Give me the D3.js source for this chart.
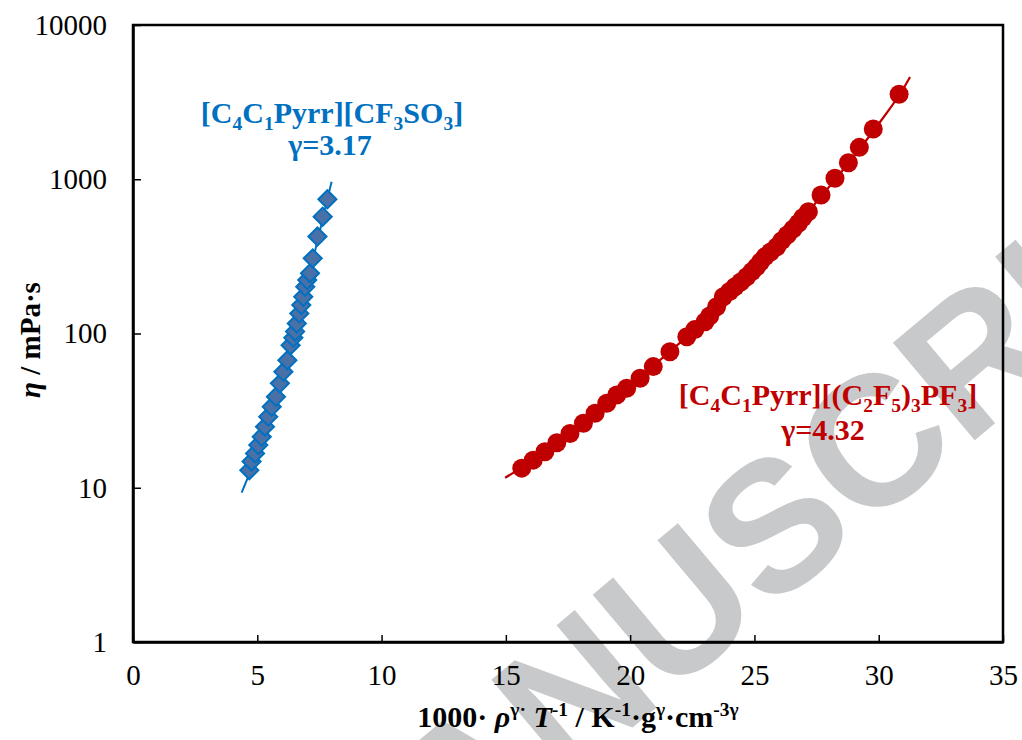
<!DOCTYPE html>
<html>
<head>
<meta charset="utf-8">
<script src="https://cdn.jsdelivr.net/npm/d3@7"></script>
<style>
  body { margin: 0; background: #fff; }
  svg text { font-family: "Times New Roman", "Liberation Serif", serif; }
</style>
</head>
<body>
<svg id="chart"></svg>
<script>
const width = 1022;
const height = 740;
const margin = { top: 25, right: 19, bottom: 98, left: 133 };

// [C4C1Pyrr][CF3SO3] data points
const blueX = [4.68, 4.77, 4.91, 5.04, 5.18, 5.31, 5.44, 5.58, 5.75, 5.91, 6.05, 6.21, 6.34, 6.45, 6.52, 6.59, 6.69, 6.77, 6.85, 6.93, 7.01, 7.12, 7.23, 7.42, 7.63, 7.82];
const blueY = [13.0, 14.8, 16.7, 18.9, 21.4, 24.9, 28.9, 33.5, 38.9, 47.5, 56.5, 67, 84, 94, 103, 116, 135, 153, 173, 201, 222, 246, 307, 425, 572, 741];
// fit line for [C4C1Pyrr][CF3SO3]
const blueFitX = [4.37, 4.8, 5.3, 5.8, 6.3, 6.8, 7.3, 7.8, 7.99];
const blueFitY = [9.3, 13.8, 24, 41, 78, 160, 330, 720, 964];

// [C4C1Pyrr][(C2F5)3PF3] data points
const redX = [15.64, 16.10, 16.57, 17.05, 17.58, 18.12, 18.59, 19.06, 19.46, 19.86, 20.40, 20.93, 21.60, 22.28, 22.60, 23.01, 23.20, 23.48, 23.75, 24.00, 24.22, 24.45, 24.69, 24.90, 25.09, 25.25, 25.43, 25.65, 25.90, 26.10, 26.32, 26.55, 26.77, 26.95, 27.17, 27.68, 28.24, 28.78, 29.22, 29.78, 30.82];
const redY = [13.4, 15.1, 17.1, 19.6, 22.5, 26.2, 30.4, 35.3, 39.9, 44.2, 51.3, 61.0, 76.2, 95.3, 106, 119, 130, 149, 173, 187, 201, 216, 233, 252, 271, 292, 315, 338, 365, 400, 435, 475, 518, 565, 616, 791, 1014, 1280, 1610, 2118, 3554];
// fit line for [C4C1Pyrr][(C2F5)3PF3]
const redFitX = [14.97, 16, 17, 18, 19, 20, 21, 22, 23, 24, 25, 26, 27, 28, 29, 30, 31, 31.26];
const redFitY = [11.6, 14.7, 19.3, 25.5, 34.5, 46, 63, 87, 120, 178, 263, 385, 575, 890, 1410, 2290, 3890, 4600];

const xTicks = [0, 5, 10, 15, 20, 25, 30, 35];
const yTicks = [1, 10, 100, 1000, 10000];

const blue = "#0070c0";
const red = "#c00000";

const svg = d3.select("#chart")
  .attr("width", width)
  .attr("height", height);

// watermark behind everything
svg.append("g")
  .attr("transform", "translate(572,692) rotate(-40)")
  .append("text")
  .attr("x", -1423)
  .attr("y", 66)
  .style("font-family", "'Liberation Sans', Arial, sans-serif")
  .style("font-weight", "bold")
  .style("font-size", "185px")
  .attr("fill", "#c8c9cb")
  .text("ACCEPTED MANUSCRIPT");

const x = d3.scaleLinear()
  .domain([0, 35])
  .range([margin.left, width - margin.right]);

const y = d3.scaleLog()
  .domain([1, 10000])
  .range([height - margin.bottom, margin.top]);

// frame
svg.append("rect")
  .attr("x", x(0))
  .attr("y", y(10000))
  .attr("width", x(35) - x(0))
  .attr("height", y(1) - y(10000))
  .attr("fill", "none")
  .attr("stroke", "#000")
  .attr("stroke-width", 2.5);

const xAxis = svg.append("g")
  .attr("transform", `translate(0, ${y(1)})`)
  .call(d3.axisBottom(x).tickValues(xTicks).tickSizeInner(-7).tickSizeOuter(0).tickPadding(22));

const yAxis = svg.append("g")
  .attr("transform", `translate(${x(0)}, 0)`)
  .call(d3.axisLeft(y).tickValues(yTicks).tickFormat(d3.format("d")).tickSizeInner(-8).tickSizeOuter(0).tickPadding(26));

[xAxis, yAxis].forEach(g => {
  g.select(".domain").attr("stroke-width", 2.5);
  g.selectAll(".tick line").attr("stroke-width", 1.5);
  g.selectAll(".tick text")
    .style("font-family", "'Times New Roman', 'Liberation Serif', serif")
    .style("font-size", "29px")
    .attr("fill", "#000");
});

const line = d3.line()
  .x(d => x(d[0]))
  .y(d => y(d[1]))
  .curve(d3.curveMonotoneX);

svg.append("path")
  .datum(blueFitX.map((v, i) => [v, blueFitY[i]]))
  .attr("d", line)
  .attr("fill", "none")
  .attr("stroke", blue)
  .attr("stroke-width", 2);

svg.append("path")
  .datum(redFitX.map((v, i) => [v, redFitY[i]]))
  .attr("d", line)
  .attr("fill", "none")
  .attr("stroke", red)
  .attr("stroke-width", 2.2);

svg.selectAll(".diamond")
  .data(blueX.map((v, i) => [v, blueY[i]]))
  .enter()
  .append("rect")
  .attr("class", "diamond")
  .attr("x", -6.4)
  .attr("y", -6.4)
  .attr("width", 12.8)
  .attr("height", 12.8)
  .attr("transform", d => `translate(${x(d[0])},${y(d[1])}) rotate(45)`)
  .attr("fill", "#4a70a8")
  .attr("stroke", blue)
  .attr("stroke-width", 2);

svg.selectAll(".dot")
  .data(redX.map((v, i) => [v, redY[i]]))
  .enter()
  .append("circle")
  .attr("class", "dot")
  .attr("cx", d => x(d[0]))
  .attr("cy", d => y(d[1]))
  .attr("r", 9.5)
  .attr("fill", red);

// text with sub/superscripts; parts are [text, "sub"|"sup"|"", "i"]
function chem(g, parts, opts) {
  const t = g.append("text")
    .attr("x", opts.x)
    .attr("y", opts.y)
    .attr("text-anchor", "middle")
    .attr("fill", opts.color)
    .style("font-weight", "bold")
    .style("font-size", opts.size + "px");
  let shift = 0;
  parts.forEach(p => {
    const s = t.append("tspan").text(p[0]);
    let want = 0;
    if (p[1] === "sub") want = Math.round(opts.size * 0.24);
    if (p[1] === "sup") want = -Math.round(opts.size * 0.38);
    if (want !== shift) s.attr("dy", want - shift);
    shift = want;
    if (p[1]) s.style("font-size", (opts.size * 0.65) + "px");
    if (p[2] === "i") s.style("font-style", "italic");
  });
  return t;
}

const ann = svg.append("g");
chem(ann, [["[C"], ["4", "sub"], ["C"], ["1", "sub"], ["Pyrr][CF"], ["3", "sub"], ["SO"], ["3", "sub"], ["]"]],
  { x: 332, y: 123, color: blue, size: 30 });
chem(ann, [["\u03b3=3.17"]], { x: 330, y: 155, color: blue, size: 30 });
chem(ann, [["[C"], ["4", "sub"], ["C"], ["1", "sub"], ["Pyrr][(C"], ["2", "sub"], ["F"], ["5", "sub"], [")"], ["3", "sub"], ["PF"], ["3", "sub"], ["]"]],
  { x: 828, y: 405, color: red, size: 30 });
chem(ann, [["\u03b3=4.32"]], { x: 823, y: 440, color: red, size: 30 });

// axis titles
chem(svg, [["1000\u00b7 "], ["\u03c1", "", "i"], ["\u03b3\u00b7", "sup"], [" "], ["T", "", "i"], ["-1", "sup"], [" / K"], ["-1", "sup"], ["\u00b7g"], ["\u03b3", "sup"], ["\u00b7cm"], ["-3\u03b3", "sup"]],
  { x: 578, y: 727, color: "#000", size: 30 });

svg.append("g")
  .attr("transform", "translate(40, 340) rotate(-90)")
  .call(g => chem(g, [["\u03b7", "", "i"], [" / mPa\u00b7s"]], { x: 0, y: 0, color: "#000", size: 29 }));
</script>
</body>
</html>
